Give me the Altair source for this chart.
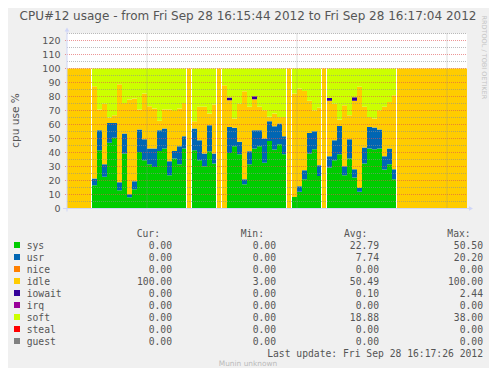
import altair as alt
import pandas as pd

# ---------------- data ----------------
SERIES = ["sys", "usr", "nice", "idle", "iowait", "irq", "soft", "steal", "guest"]
COLORS = ["#00CC00", "#0066B3", "#FF8000", "#FFCC00", "#330099",
          "#990099", "#CCFF00", "#FF0000", "#808080"]

# one sample per second, 16:15:44 .. 16:17:04 (80 samples)
sys_v = [0, 0, 0, 0, 0, 16.6, 41.6, 22.6, 46.9, 50.5,
         13.0, 39.2, 8.0, 13.8, 40.4, 34.5, 31.6, 29.7, 41.1, 42.8,
         23.8, 35.7, 31.6, 42.8, 0, 41.6, 34.5, 30.2, 40.9, 32.1,
         0, 0, 39.7, 44.5, 38.8, 17.3, 31.6, 42.8, 44.5, 32.6,
         48.3, 42.1, 45.9, 38.8, 0, 8.3, 11.9, 20.9, 39.2, 42.3,
         23.3, 0, 29.2, 34.5, 38.8, 23.8, 35.7, 22.1, 11.9, 32.1,
         42.8, 42.3, 42.8, 27.8, 31.6, 20.9, 0, 0, 0, 0,
         0, 0, 0, 0, 0, 0, 0, 0, 0, 0]
usr_v = [0, 0, 0, 0, 0, 4.8, 14.3, 9.0, 14.2, 10.6,
         5.8, 14.3, 2.2, 5.7, 16.0, 15.0, 11.2, 13.1, 14.8, 14.3,
         10.0, 5.4, 12.9, 8.8, 0, 15.5, 14.3, 9.0, 18.6, 7.1,
         0, 0, 18.6, 13.1, 8.8, 3.6, 9.3, 13.1, 11.4, 17.4,
         14.0, 16.7, 14.8, 12.8, 0, 0, 4.0, 6.4, 14.8, 12.9,
         7.6, 0, 8.1, 14.3, 20.2, 6.4, 13.8, 5.9, 2.8, 11.4,
         15.5, 15.5, 13.6, 9.5, 11.2, 7.1, 0, 0, 0, 0,
         0, 0, 0, 0, 0, 0, 0, 0, 0, 0]
nice_v = [0] * 80
idle_v = [100, 100, 100, 100, 100, 65.9, 14.8, 43.3, 3.9, 5.5,
          70.0, 21.9, 67.6, 59.0, 14.3, 32.6, 30.2, 28.6, 6.7, 13.6,
          36.9, 28.6, 26.9, 23.8, 100, 5.2, 23.8, 33.4, 8.3, 35.0,
          100, 88.0, 19.0, 6.6, 27.3, 62.9, 31.7, 22.2, 16.7, 20.2,
          3.2, 9.0, 4.7, 13.8, 100, 73.8, 69.8, 56.7, 23.0, 14.8,
          41.1, 100, 39.7, 26.1, 4.5, 43.6, 17.1, 49.0, 72.2, 29.1,
          7.1, 6.4, 13.8, 35.3, 33.3, 52.9, 100, 100, 100, 100,
          100, 100, 100, 100, 100, 100, 100, 100, 100, 100]
iowait_v = [0, 0, 0, 0, 0, 0, 0, 0, 0, 0,
            0, 0, 0, 0, 0, 0, 0, 0, 0, 0,
            0, 0, 0, 0, 0, 0, 0, 0, 0, 0,
            0, 0, 2.0, 0, 0, 0, 0, 2.0, 0, 0,
            0, 0, 0, 0, 0, 0, 0, 0, 0, 0,
            0, 0, 2.0, 0, 0, 0, 0, 2.4, 0, 0,
            0, 0, 0, 0, 0, 0, 0, 0, 0, 0,
            0, 0, 0, 0, 0, 0, 0, 0, 0, 0]
irq_v = [0] * 80
soft_v = [0, 0, 0, 0, 0, 12.7, 29.3, 25.1, 35.0, 33.4,
          11.2, 24.6, 22.2, 21.5, 29.3, 17.9, 27.0, 28.6, 37.4, 29.3,
          29.3, 30.3, 28.6, 24.6, 0, 37.7, 27.4, 27.4, 32.2, 25.8,
          0, 12.0, 20.7, 35.8, 25.1, 16.2, 27.4, 19.9, 27.4, 29.8,
          34.5, 32.2, 34.6, 34.6, 0, 17.9, 14.3, 16.0, 23.0, 30.0,
          28.0, 0, 21.0, 25.1, 36.5, 26.2, 33.4, 20.6, 13.1, 27.4,
          34.6, 35.8, 29.8, 27.4, 23.9, 19.1, 0, 0, 0, 0,
          0, 0, 0, 0, 0, 0, 0, 0, 0, 0]
steal_v = [0] * 80
guest_v = [0] * 80

# sample boundaries where rrdtool left a white seam
GAP_TIMES = [5, 24, 25, 30, 31, 44, 45, 51, 52, 66]
# time grid (16:16:00, 16:16:30, 16:17:00) in seconds after 16:15:44
TIME_GRID = [16, 46, 76]
Y_TICKS = [0, 10, 20, 30, 40, 50, 60, 70, 80, 90, 100, 110, 120]
MINOR_GRID = [5, 15, 25, 35, 45, 55, 65, 75, 85, 95, 105, 115, 125]

LEG_CUR = [0.00, 0.00, 0.00, 100.00, 0.00, 0.00, 0.00, 0.00, 0.00]
LEG_MIN = [0.00, 0.00, 0.00, 3.00, 0.00, 0.00, 0.00, 0.00, 0.00]
LEG_AVG = [22.79, 7.74, 0.00, 50.49, 0.10, 0.00, 18.88, 0.00, 0.00]
LEG_MAX = [50.50, 20.20, 0.00, 100.00, 2.44, 0.00, 38.00, 0.00, 0.00]

TITLE = "CPU#12 usage - from Fri Sep 28 16:15:44 2012 to Fri Sep 28 16:17:04 2012"
Y_TITLE = "cpu use %"
LAST_UPDATE = "Last update: Fri Sep 28 16:17:26 2012"
FOOTER = "Munin unknown"
WATERMARK = "RRDTOOL / TOBI OETIKER"

# ---------------- build tables ----------------
vals = {"sys": sys_v, "usr": usr_v, "nice": nice_v, "idle": idle_v,
        "iowait": iowait_v, "irq": irq_v, "soft": soft_v,
        "steal": steal_v, "guest": guest_v}
rows = []
for i in range(81):
    j = min(i, 79)
    for k, name in enumerate(SERIES):
        rows.append({"t": i, "series": name, "order": k, "value": vals[name][j]})
df = pd.DataFrame(rows)

W, H = 400, 175
T_MAX, Y_MAX = 80, 125
xs = alt.Scale(domain=[0, T_MAX], nice=False, zero=False)
ys = alt.Scale(domain=[0, Y_MAX], nice=False, zero=True)
cs = alt.Scale(domain=SERIES, range=COLORS)
TXT = "#555555"

# the same y-axis definition is given to every layer so the merged axis keeps it
Y_AXIS = alt.Axis(values=Y_TICKS, title=None, domain=False, ticks=False,
                  grid=False, labelPadding=7, labelFont="DejaVu Sans",
                  labelFontSize=9.5, labelColor=TXT)

area = alt.Chart(df).mark_area(interpolate="step-after").encode(
    x=alt.X("t:Q", scale=xs, axis=None),
    y=alt.Y("value:Q", stack="zero", scale=ys, axis=Y_AXIS),
    color=alt.Color("series:N", scale=cs, legend=None),
    order=alt.Order("order:Q"),
)

gap_df = pd.DataFrame({"g": GAP_TIMES, "lo": 0, "hi": 100})
gaps = alt.Chart(gap_df).transform_calculate(xg="datum.g - 0.1").mark_rule(
    color="white", strokeWidth=1).encode(
    x=alt.X("xg:Q", scale=xs, axis=None),
    y=alt.Y("hi:Q", scale=ys, axis=Y_AXIS), y2="lo:Q")

minor = alt.Chart(pd.DataFrame({"v": MINOR_GRID})).mark_rule(
    color="#8F8F8F", strokeDash=[1, 1], strokeWidth=1, opacity=0.6).encode(
    y=alt.Y("v:Q", scale=ys, axis=Y_AXIS), x=alt.value(0), x2=alt.value(W))
major = alt.Chart(pd.DataFrame({"v": Y_TICKS[1:]})).mark_rule(
    color="#E05050", strokeDash=[1, 1], strokeWidth=1, opacity=0.6).encode(
    y=alt.Y("v:Q", scale=ys, axis=Y_AXIS), x=alt.value(-2), x2=alt.value(W))
vgrid = alt.Chart(pd.DataFrame({"tg": TIME_GRID})).mark_rule(
    color="#8F8F8F", strokeDash=[1, 1], strokeWidth=1, opacity=0.6).encode(
    x=alt.X("tg:Q", scale=xs, axis=None), y=alt.value(0), y2=alt.value(H))

one = pd.DataFrame({"a": [0]})
AX = "#CFD6F8"
yaxis = alt.Chart(one).mark_rule(color=AX, strokeWidth=1).encode(
    x=alt.value(0), y=alt.value(-4), y2=alt.value(H + 3))
xaxis = alt.Chart(one).mark_rule(color=AX, strokeWidth=1).encode(
    y=alt.value(H), x=alt.value(-4), x2=alt.value(W + 3))
arrow_up = alt.Chart(one).mark_point(shape="triangle-up", filled=True, size=22,
                                     color=AX, opacity=1).encode(
    x=alt.value(0), y=alt.value(-4))
arrow_right = alt.Chart(one).mark_point(shape="triangle-right", filled=True, size=22,
                                        color=AX, opacity=1).encode(
    x=alt.value(W + 4), y=alt.value(H))

# texts are placed by pixel offsets from the plot origin, converted to the
# plot's own x/y units so that they go through the shared scales
PX2T = f"datum.px * {T_MAX} / {W}"
PY2V = f"({H} - datum.py) * {Y_MAX} / {H}"


def text_layer(frame, align, font, size, color, angle=0):
    return alt.Chart(frame).transform_calculate(tx=PX2T, vy=PY2V).mark_text(
        align=align, baseline="alphabetic", font=font, fontSize=size,
        color=color, angle=angle).encode(
        x=alt.X("tx:Q", scale=xs, axis=None),
        y=alt.Y("vy:Q", scale=ys, axis=Y_AXIS),
        text="label:N")


title = text_layer(pd.DataFrame({"label": [TITLE], "px": [181], "py": [-14]}),
                   "center", "DejaVu Sans", 12, TXT)
ytitle = text_layer(pd.DataFrame({"label": [Y_TITLE], "px": [-48], "py": [87]}),
                    "center", "DejaVu Sans", 10.5, TXT, angle=270)
water = text_layer(pd.DataFrame({"label": [WATERMARK], "px": [415], "py": [-18]}),
                   "left", "DejaVu Sans", 6.5, "#C4C4C4", angle=90)

ROW0, DY = 215.8, 12
names_df = pd.DataFrame({"label": SERIES, "px": -40.3,
                         "py": [ROW0 + DY * k for k in range(len(SERIES))]})
names = text_layer(names_df, "left", "DejaVu Sans Mono", 9.7, TXT)

sq_df = pd.DataFrame({"series": SERIES, "px": -50,
                      "py": [ROW0 - 4.3 + DY * k for k in range(len(SERIES))]})
squares = alt.Chart(sq_df).transform_calculate(tx=PX2T, vy=PY2V).mark_square(
    size=36, opacity=1).encode(
    x=alt.X("tx:Q", scale=xs, axis=None),
    y=alt.Y("vy:Q", scale=ys, axis=Y_AXIS),
    color=alt.Color("series:N", scale=cs, legend=None))

hdr = text_layer(pd.DataFrame({"label": ["Cur:", "Min:", "Avg:", "Max:"],
                               "px": [69.7, 173.7, 277, 380.3], "py": ROW0 - 12}),
                 "left", "DejaVu Sans Mono", 9.7, TXT)

val_rows = []
for col, xr in zip([LEG_CUR, LEG_MIN, LEG_AVG, LEG_MAX], [105, 209, 312, 416]):
    for k, v in enumerate(col):
        val_rows.append({"label": f"{v:.2f}", "px": xr, "py": ROW0 + DY * k})
values_txt = text_layer(pd.DataFrame(val_rows), "right", "DejaVu Sans Mono", 9.7, TXT)

last = text_layer(pd.DataFrame({"label": [LAST_UPDATE], "px": [416], "py": [323.8]}),
                  "right", "DejaVu Sans Mono", 9.7, TXT)
footer = text_layer(pd.DataFrame({"label": [FOOTER], "px": [181], "py": [332.3]}),
                    "center", "DejaVu Sans", 7.4, "#BBBBBB")

chart = alt.layer(
    area, gaps, minor, major, vgrid, yaxis, xaxis, arrow_up, arrow_right,
    title, ytitle, water, squares, names, hdr, values_txt, last, footer
).properties(
    width=W, height=H,
    autosize=alt.AutoSizeParams(type="none"),
    padding={"left": 59, "top": 25.5, "right": 22, "bottom": 159.5},
    background="#F0F0F0",
).configure_view(fill="white", stroke=None)

chart.save("out.html", embed_options={"renderer": "svg", "actions": False})
